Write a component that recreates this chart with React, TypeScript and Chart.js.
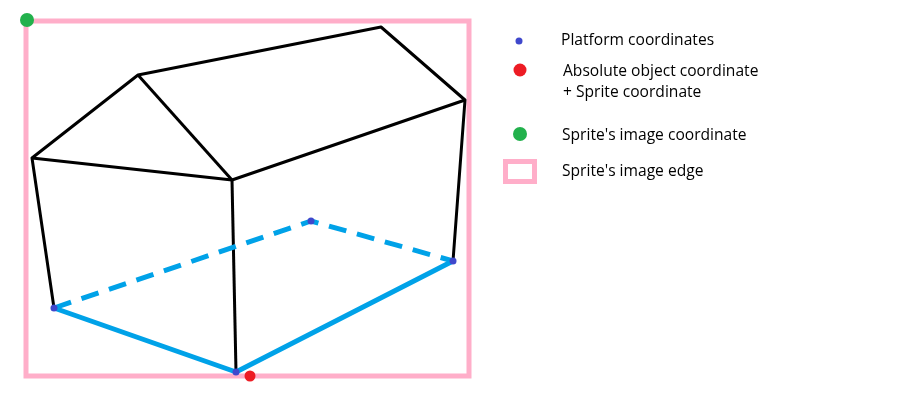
import React, { useEffect, useRef } from "react";
import { Chart, registerables } from "chart.js";

Chart.register(...registerables);

// Diagram space: 909 x 419 units, y grows downward.
const vertexNames = ["eaveLeft", "ridgeFront", "eaveFront", "ridgeBack", "eaveRight", "baseLeft", "baseFront", "baseRight", "baseBack"];
const vertexX = [32, 138, 232, 381, 465, 54, 236, 453, 311];
const vertexY = [158, 75, 180, 27, 100, 308, 372, 261, 221];

const houseOutlines = [
  ["baseLeft", "eaveLeft", "ridgeFront", "ridgeBack", "eaveRight", "baseRight"],
  ["eaveLeft", "eaveFront", "eaveRight"],
  ["ridgeFront", "eaveFront"],
  ["eaveFront", "baseFront"],
];
const visiblePlatform = ["baseLeft", "baseFront", "baseRight"];
const hiddenPlatform = ["baseLeft", "baseBack", "baseRight"];
const platformCoordinates = ["baseLeft", "baseFront", "baseRight", "baseBack"];

const spriteEdgeX = [26, 469];
const spriteEdgeY = [21, 376];
const spriteImageCoordX = [27];
const spriteImageCoordY = [20];
const objectCoordX = [250];
const objectCoordY = [376];

const legendLabels = [
  ["Platform coordinates"],
  ["Absolute object coordinate", "+ Sprite coordinate"],
  ["Sprite's image coordinate"],
  ["Sprite's image edge"],
];

const BLACK = "#000000";
const BLUE_LINE = "#00A2E8";
const BLUE_POINT = "#3F48CC";
const RED = "#ED1C24";
const GREEN = "#22B14C";
const PINK = "#FFAEC9";

const pt = (name: string) => {
  const i = vertexNames.indexOf(name);
  return { x: vertexX[i], y: vertexY[i] };
};

const legendPlugin = {
  id: "diagramLegend",
  afterDatasetsDraw(chart: any) {
    const ctx = chart.ctx as CanvasRenderingContext2D;
    ctx.save();
    const dot = (x: number, y: number, r: number, c: string) => {
      ctx.beginPath();
      ctx.arc(x, y, r, 0, Math.PI * 2);
      ctx.fillStyle = c;
      ctx.fill();
    };
    dot(519, 41, 3.5, BLUE_POINT);
    dot(520, 70, 6.5, RED);
    dot(520, 134, 7, GREEN);
    ctx.strokeStyle = PINK;
    ctx.lineWidth = 5;
    ctx.strokeRect(505.5, 161.5, 29, 20);
    ctx.fillStyle = "#000000";
    ctx.textBaseline = "alphabetic";
    ctx.textAlign = "left";
    ctx.font = "15.6px 'Open Sans'";
    const rows = [
      { x: 561, y: [45] },
      { x: 563, y: [76, 97] },
      { x: 562, y: [140] },
      { x: 562, y: [176] },
    ];
    legendLabels.forEach((lines, i) => {
      lines.forEach((t, j) => ctx.fillText(t, rows[i].x, rows[i].y[j]));
    });
    ctx.restore();
  },
};

export default function App() {
  const ref = useRef<HTMLCanvasElement | null>(null);
  useEffect(() => {
    document.body.style.margin = "0";
    if (!ref.current) return;
    const lineDs = (pts: any[], color: string, width: number, order: number, dash: number[] = [], join: any = "round") => ({
      data: pts,
      showLine: true,
      borderColor: color,
      borderWidth: width,
      borderDash: dash,
      borderJoinStyle: join,
      borderCapStyle: "butt",
      pointRadius: 0,
      tension: 0,
      fill: false,
      clip: false,
      order,
    });
    const pointDs = (pts: any[], color: string, r: number, order: number) => ({
      data: pts,
      showLine: false,
      pointRadius: r,
      pointBackgroundColor: color,
      pointBorderWidth: 0,
      pointBorderColor: color,
      clip: false,
      order,
    });
    const rect = [
      { x: spriteEdgeX[0], y: spriteEdgeY[0] },
      { x: spriteEdgeX[1], y: spriteEdgeY[0] },
      { x: spriteEdgeX[1], y: spriteEdgeY[1] },
      { x: spriteEdgeX[0], y: spriteEdgeY[1] },
      { x: spriteEdgeX[0], y: spriteEdgeY[0] },
    ];
    const datasets: any[] = [
      lineDs(rect, PINK, 5, 10, [], "miter"),
      ...houseOutlines.map((o) => lineDs(o.map(pt), BLACK, 3, 6)),
      lineDs(visiblePlatform.map(pt), BLUE_LINE, 5, 5),
      lineDs(hiddenPlatform.map(pt), BLUE_LINE, 5, 5, [18, 11]),
      pointDs(platformCoordinates.map(pt), BLUE_POINT, 3.5, 2),
      pointDs(objectCoordX.map((x, i) => ({ x, y: objectCoordY[i] })), RED, 5.5, 1),
      pointDs(spriteImageCoordX.map((x, i) => ({ x, y: spriteImageCoordY[i] })), GREEN, 7, 1),
    ];
    const chart = new Chart(ref.current, {
      type: "scatter",
      data: { datasets },
      options: {
        animation: false,
        responsive: false,
        maintainAspectRatio: false,
        layout: { padding: 0, autoPadding: false },
        events: [],
        scales: {
          x: { type: "linear", min: 0, max: 909, display: false },
          y: { type: "linear", min: 0, max: 419, reverse: true, display: false },
        },
        plugins: { legend: { display: false }, tooltip: { enabled: false }, title: { display: false } },
      },
      plugins: [legendPlugin],
    } as any);
    return () => chart.destroy();
  }, []);
  return (
    <div style={{ width: 909, height: 419, background: "#ffffff" }}>
      <canvas ref={ref} width={909} height={419} style={{ display: "block" }} />
    </div>
  );
}
